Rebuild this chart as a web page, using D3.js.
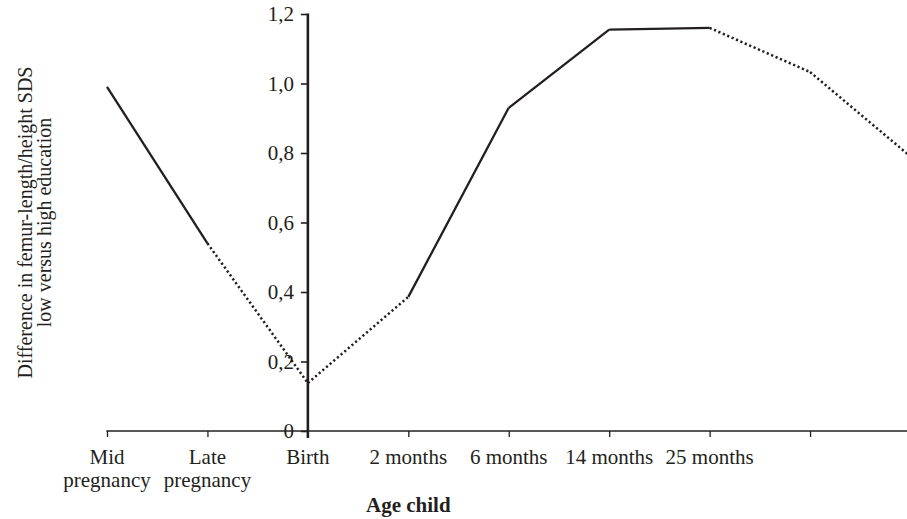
<!DOCTYPE html>
<html>
<head>
<meta charset="utf-8">
<script src="https://cdn.jsdelivr.net/npm/d3@7"></script>
<style>
  html, body { margin: 0; padding: 0; background: #fff; }
  svg { display: block; font-family: "Liberation Serif", "Times New Roman", serif; }
</style>
</head>
<body>
<svg id="chart" width="907" height="519"></svg>
<script>
// ============ Data ============
const categories = ["mid", "late", "birth", "m2", "m6", "m14", "m25", "x8", "x9"];
const categoryLabels = [["Mid", "pregnancy"], ["Late", "pregnancy"], ["Birth"], ["2 months"], ["6 months"], ["14 months"], ["25 months"], [], []];
const diffValues = [0.99, 0.54, 0.138, 0.386, 0.93, 1.155, 1.16, 1.033, 0.79];
// line style of each segment between consecutive points
const segmentStyles = ["solid", "dotted", "dotted", "solid", "solid", "solid", "dotted", "dotted"];
const yTicks = [0, 0.2, 0.4, 0.6, 0.8, 1.0, 1.2];
const yTitle = ["Difference in femur-length/height SDS", "low versus high education"];
const xTitle = "Age child";

// ============ Setup ============
const INK = "#231f20";
const FONT_SIZE = 21;
const svg = d3.select("#chart");

const x = d3.scalePoint().domain(categories).range([107, 910.5]);
const y = d3.scaleLinear().domain([0, 1.2]).range([431, 14]);

// ---- X axis ----
const xAxis = svg.append("g")
  .attr("transform", `translate(0,${y(0)})`)
  .call(d3.axisBottom(x).tickSize(6).tickFormat(""));
xAxis.select(".domain").remove();
xAxis.selectAll(".tick line").attr("stroke", INK).attr("stroke-width", 1.3);
svg.append("line")
  .attr("x1", x(categories[0]) - 0.7).attr("x2", 907)
  .attr("y1", y(0)).attr("y2", y(0))
  .attr("stroke", INK).attr("stroke-width", 1.4);

const labelG = svg.append("g").attr("font-size", FONT_SIZE).attr("fill", INK).attr("text-anchor", "middle");
categories.forEach((c, i) => {
  const t = labelG.append("text").attr("x", x(c)).attr("y", 464);
  categoryLabels[i].forEach((line, j) => {
    t.append("tspan").attr("x", x(c)).attr("dy", j === 0 ? 0 : 23).text(line);
  });
});

svg.append("text")
  .attr("x", x("m2")).attr("y", 512)
  .attr("text-anchor", "middle")
  .attr("font-size", FONT_SIZE).attr("font-weight", "bold").attr("fill", INK)
  .text(xTitle);

// ---- Y axis (sits at Birth) ----
const yAxisX = x("birth");
const yAxis = svg.append("g")
  .attr("transform", `translate(${yAxisX},0)`)
  .call(d3.axisLeft(y).tickValues(yTicks).tickSize(7).tickPadding(7)
    .tickFormat(d => d === 0 ? "0" : d3.format(".1f")(d).replace(".", ",")));
yAxis.select(".domain").remove();
yAxis.selectAll(".tick line").attr("stroke", INK).attr("stroke-width", 1.6);
yAxis.selectAll(".tick text")
  .attr("font-family", "Liberation Serif, serif")
  .attr("font-size", FONT_SIZE).attr("fill", INK);
svg.append("line")
  .attr("x1", yAxisX).attr("x2", yAxisX)
  .attr("y1", y(1.2) - 0.5).attr("y2", 438)
  .attr("stroke", INK).attr("stroke-width", 2.6);

// y title, two rotated lines
const yt = svg.append("text")
  .attr("transform", `translate(32,${(y(0) + y(1.2)) / 2}) rotate(-90)`)
  .attr("text-anchor", "middle")
  .attr("font-size", 20).attr("fill", INK);
yTitle.forEach((line, j) => {
  yt.append("tspan").attr("x", 0).attr("dy", j === 0 ? 0 : 18.5).text(line);
});

// ---- Line segments ----
const segs = segmentStyles.map((s, i) => ({
  style: s,
  x1: x(categories[i]), y1: y(diffValues[i]),
  x2: x(categories[i + 1]), y2: y(diffValues[i + 1])
}));

svg.append("g").selectAll("line")
  .data(segs)
  .enter()
  .append("line")
  .attr("x1", d => d.x1).attr("y1", d => d.y1)
  .attr("x2", d => d.x2).attr("y2", d => d.y2)
  .attr("stroke", INK)
  .attr("stroke-width", d => d.style === "solid" ? 2.3 : 2.5)
  .attr("stroke-dasharray", d => d.style === "solid" ? null : "2.2 2.6");
</script>
</body>
</html>
